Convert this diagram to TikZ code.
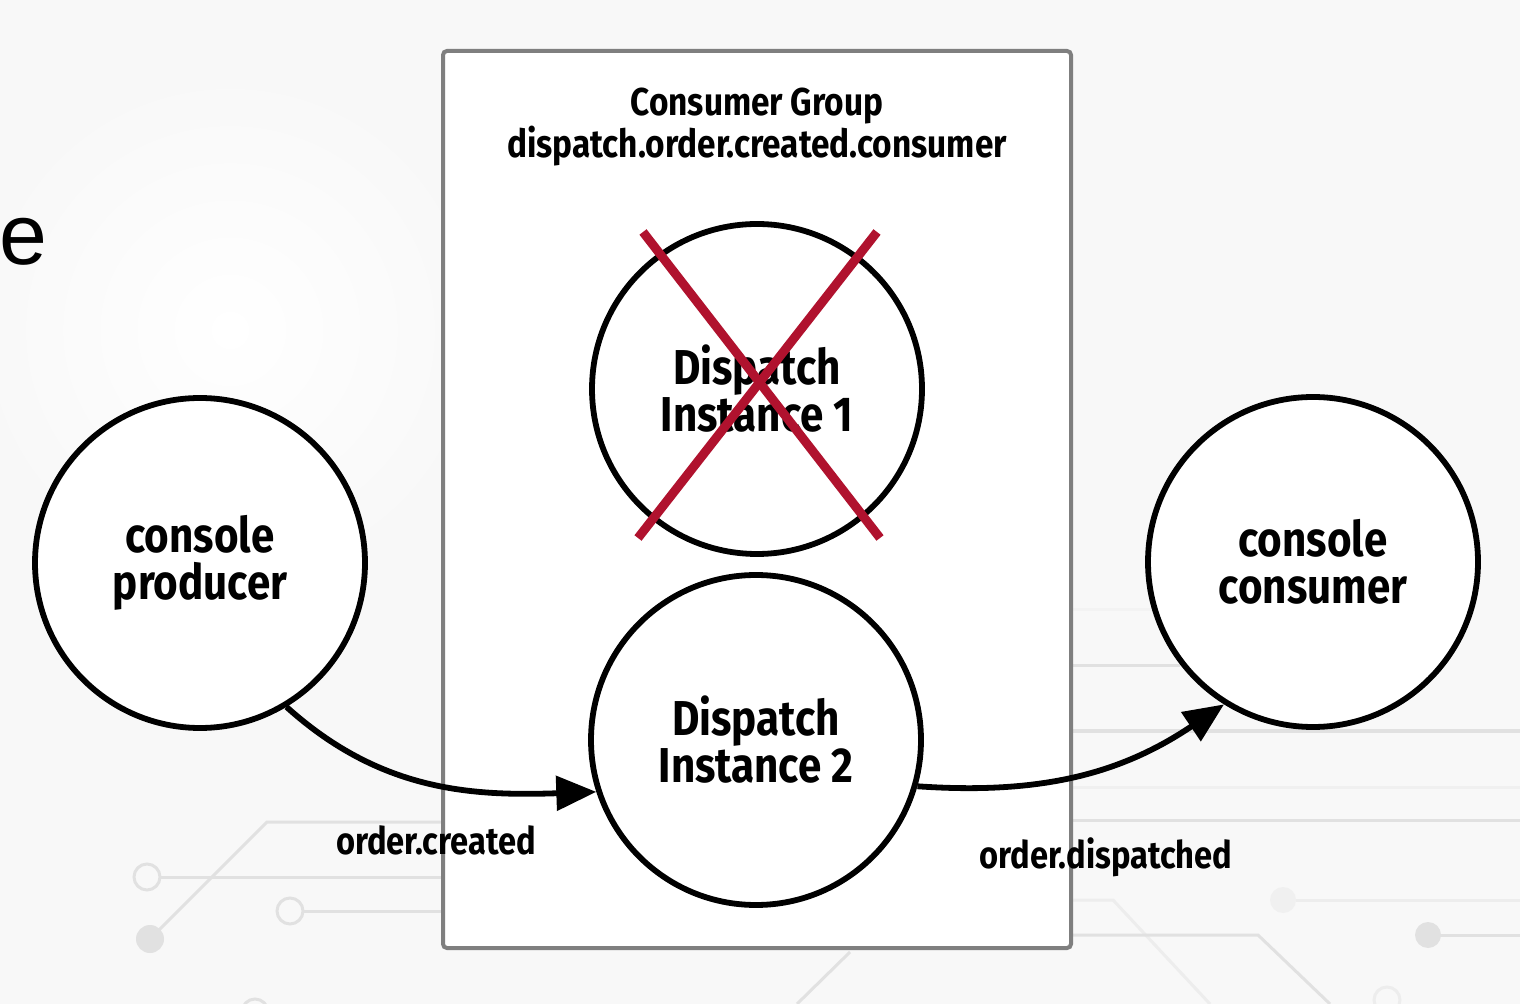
\documentclass[tikz,border=0pt]{standalone}
\usepackage{fontspec}
\setmainfont{Liberation Sans}
\newfontfamily\hand{Fira Sans}[FakeStretch=0.86]
\usetikzlibrary{arrows.meta}
\definecolor{bg}{HTML}{F8F8F8}
\definecolor{circ}{HTML}{E1E1E1}
\definecolor{xred}{HTML}{B0122E}
\definecolor{boxgrey}{HTML}{7F7F7F}
\begin{document}
\begin{tikzpicture}[x=0.5pt,y=-0.5pt,
  ball/.style={circle, draw=black, line width=2.9pt, fill=white, minimum size=165pt,
    inner sep=0pt, align=center, font=\hand\bfseries\fontsize{24.5}{23.5}\selectfont},
  lbl/.style={inner sep=0pt, font=\hand\bfseries\fontsize{19}{20}\selectfont},
  titletext/.style={inner sep=0pt, align=center, font=\hand\bfseries\fontsize{19.4}{21}\selectfont},
  trace/.style={draw=circ, line width=1.5pt},
  flow/.style={line width=2.9pt, -{Triangle[length=20pt,width=17pt]}},
  cross/.style={draw=xred, line width=4.5pt},
  groupbox/.style={draw=boxgrey, line width=2pt, fill=white, rounded corners=2pt,
    minimum width=314pt, minimum height=448.5pt, inner sep=0pt}]
\useasboundingbox (0,0) rectangle (1520,1004);
\clip (0,0) rectangle (1520,1004);
% background
\fill[bg] (0,0) rectangle (1520,1004);
\shade[inner color=white, outer color=bg] (230,330) circle[radius=260];
% circuit traces left
\draw[trace] (150,939) -- (267,822) -- (443,822);
\draw[trace] (160,877) -- (443,877);
\draw[trace] (147,877) circle[radius=13];
\draw[trace] (303,911) -- (443,911);
\draw[trace] (290,911) circle[radius=13];
\fill[circ] (150,939) circle[radius=14];
\draw[trace] (255,1012) circle[radius=13];
% circuit traces right
\draw[trace] (1072,666) -- (1180,666);
\draw[trace] (1072,731) -- (1520,731);
\draw[trace, draw=circ!50] (1072,787) -- (1520,787);
\draw[trace] (1072,820) -- (1520,820);
\draw[trace, draw=circ!40] (1072,610) -- (1160,610);
\draw[trace, draw=circ!60] (1072,900) -- (1113,900) -- (1210,1004);
\draw[trace, draw=circ!60] (1296,900) -- (1520,900);
\fill[circ!50] (1283,900) circle[radius=13];
\draw[trace] (1072,935) -- (1258,935) -- (1330,1004);
\draw[trace] (1428,935) -- (1520,935);
\fill[circ] (1428,935) circle[radius=13];
\draw[trace, draw=circ!60] (1387,1000) circle[radius=13];
\draw[trace] (850,952) -- (797,1004);
% left partial text
\node[anchor=base west, inner sep=0pt, font=\fontsize{43}{43}\selectfont] (frag) at (-1,265) {e};
% consumer group box
\node[groupbox] (grp) at (757,499.5) {};
\node[titletext] (title) at (757,127) {Consumer Group\\dispatch.order.created.consumer};
% circles
\node[ball] (prod) at (200,563) {console\\producer};
\node[ball] (cons) at (1313,562) {console\\consumer};
\node[ball] (d1) at (757,389) {Dispatch\\Instance 1};
\node[ball] (d2) at (756,740) {Dispatch\\Instance 2};
% crossed out
\draw[cross] (643,232) -- (880,538);
\draw[cross] (877,232) -- (638,538);
% connectors
\draw[flow] (prod.-59) to[out=-42, in=182] (d2.198);
\draw[flow] (d2.-16) to[out=-4, in=214] (cons.238);
% labels
\node[lbl] (lc) at (436,840) {order.created};
\node[lbl] (ld) at (1106,857) {order.dispatched};
\end{tikzpicture}
\end{document}
